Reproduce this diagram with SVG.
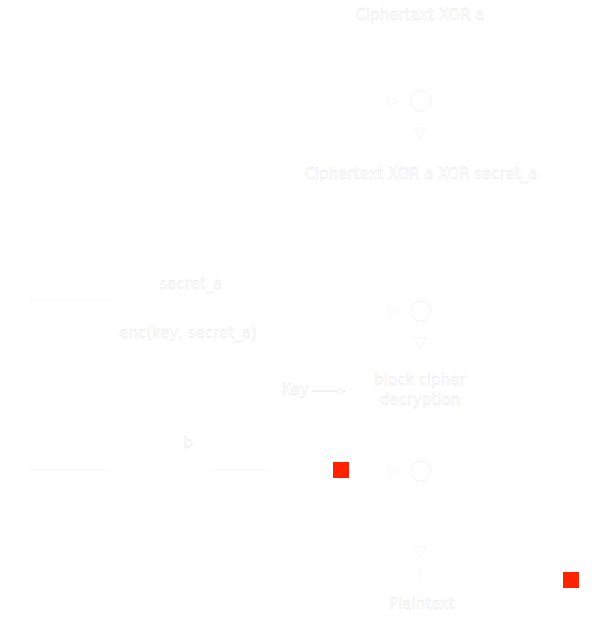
<svg xmlns="http://www.w3.org/2000/svg" width="611" height="631" viewBox="0 0 611 631">
<style>
text{font-family:"DejaVu Sans",Verdana,sans-serif;font-size:15px;fill:#fff;stroke:#e6e6e6;stroke-width:0.35;text-anchor:middle}
.ln{stroke:#f7f7f7;stroke-width:1;fill:none}
.xor{stroke:#e6e6e6;stroke-width:1;fill:#fff;stroke-dasharray:1.5 1.5}
.ah{fill:#fff;stroke:#e6e6e6;stroke-width:0.7;stroke-dasharray:1 1}
.red{fill:#ff2200}
</style>
<defs>
<marker id="arr" markerWidth="8" markerHeight="8" refX="7" refY="4" orient="auto"><path d="M0,1 L7,4 L0,7 z" fill="#fff" stroke="#e6e6e6" stroke-width="0.6"/></marker>
</defs>
<rect width="611" height="631" fill="#fff"/>
<g id="connectors">
<line class="ln" x1="30" y1="300" x2="110" y2="300"/>
<line class="ln" x1="30" y1="470" x2="110" y2="470"/>
<line class="ln" x1="210" y1="470" x2="270" y2="470"/>
<line x1="312" y1="391" x2="345" y2="391" stroke="#e6e6e6" stroke-width="1" marker-end="url(#arr)"/>
<path class="ah" d="M388,96 L399,101 L388,106 z"/>
<path class="ah" d="M414,128 L420,139 L426,128 z"/>
<path class="ah" d="M388,306 L399,311 L388,316 z"/>
<path class="ah" d="M414,338 L420,349 L426,338 z"/>
<path class="ah" d="M388,466 L399,471 L388,476 z"/>
<path class="ah" d="M414,547 L420,558 L426,547 z"/>
<line class="ln" x1="420" y1="568" x2="420" y2="580"/>
</g>
<g id="title"><text x="420" y="20">Ciphertext XOR a</text></g>
<g id="xor1"><circle class="xor" cx="421" cy="101" r="10"/></g>
<g id="mid"><text x="421" y="179">Ciphertext XOR a XOR secret_a</text></g>
<g id="secret"><text x="191" y="289">secret_a</text></g>
<g id="enc"><text x="188" y="338">enc(key, secret_a)</text></g>
<g id="xor2"><circle class="xor" cx="421" cy="311" r="10"/></g>
<g id="key"><text x="295" y="395">Key</text></g>
<g id="block"><text x="420" y="385">block cipher</text><text x="420" y="405">decryption</text></g>
<g id="b"><text x="188" y="448">b</text></g>
<g id="xor3"><circle class="xor" cx="421" cy="471" r="10"/></g>
<g id="plain"><text x="422" y="609">Plaintext</text></g>
<rect class="red" x="333" y="462" width="16" height="16"/>
<rect class="red" x="563" y="572" width="16" height="16"/>
</svg>
